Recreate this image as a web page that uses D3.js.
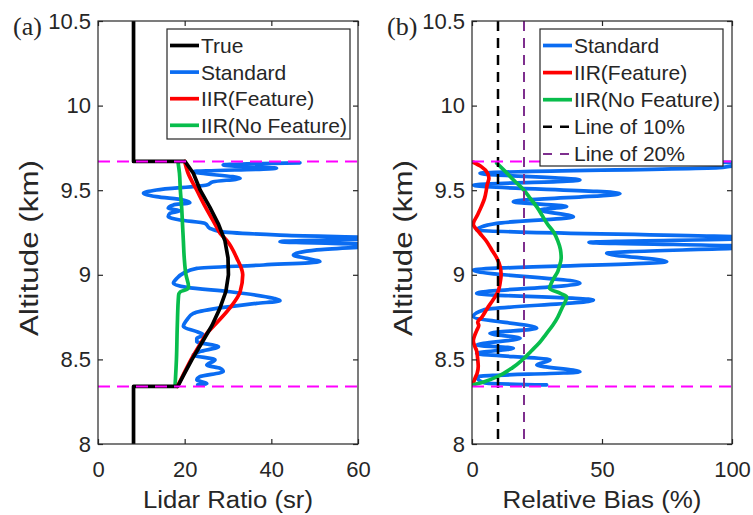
<!DOCTYPE html>
<html>
<head>
<meta charset="utf-8">
<script src="https://cdn.jsdelivr.net/npm/d3@7"></script>
<style>
  body { margin: 0; background: #fff; }
  text { font-family: "Liberation Sans", Arial, sans-serif; fill: #262626; }
</style>
</head>
<body>
<script>
// ticks
var altTicks = [8, 8.5, 9, 9.5, 10, 10.5];
var ratioTicks = [0, 20, 40, 60];
var biasTicks = [0, 50, 100];

// cloud base / top (km) and bias reference lines (%)
var cloudBounds = [8.34, 9.67];
var refLines = [10, 20];

// (a) lidar ratio, [altitude km, sr]
var trueLR = [[8.0, 8.2], [8.34, 8.2], [8.34, 18.4], [8.4, 19.6], [8.5, 21.7], [8.6, 24.0], [8.7, 26.3],
  [8.8, 28.1], [8.9, 29.5], [9.0, 30.1], [9.1, 30.0], [9.2, 29.3], [9.3, 27.8], [9.4, 25.8],
  [9.5, 23.6], [9.6, 22.0], [9.67, 20.1], [9.67, 8.2], [10.5, 8.2]];
var stdLR = [[9.662, 46.6], [9.649, 28.9], [9.629, 41.2], [9.61, 22.0], [9.57, 32.8], [9.55, 26.6],
  [9.531, 25.1], [9.501, 13.5], [9.482, 10.5], [9.462, 13.5], [9.442, 19.7], [9.426, 21.2],
  [9.413, 17.4], [9.393, 16.2], [9.379, 18.9], [9.363, 16.6], [9.344, 16.2], [9.324, 18.9],
  [9.304, 24.7], [9.275, 25.8], [9.255, 28.2], [9.235, 42.0], [9.216, 66], [9.196, 42.0],
  [9.176, 66], [9.147, 50.5], [9.117, 45.1], [9.097, 48.2], [9.078, 51.2], [9.058, 38.2],
  [9.038, 22.8], [9.009, 19.7], [8.979, 18.2], [8.95, 17.4], [8.926, 20.5], [8.9, 30.5],
  [8.861, 40.5], [8.847, 42.0], [8.831, 36.6], [8.802, 27.4], [8.772, 22.0], [8.733, 20.5],
  [8.694, 19.7], [8.664, 22.8], [8.644, 24.3], [8.625, 22.8], [8.605, 22.8], [8.575, 27.8],
  [8.546, 23.5], [8.526, 22.0], [8.497, 27.0], [8.467, 25.1], [8.447, 28.2], [8.428, 28.9],
  [8.398, 23.5], [8.378, 22.8], [8.358, 25.1], [8.35, 23.0]];
var iirFeatLR = [[9.67, 20.0], [9.6, 20.8], [9.5, 22.8], [9.4, 24.8], [9.3, 27.0], [9.245, 28.2],
  [9.2, 29.8], [9.1, 32.0], [9.0, 33.4], [8.9, 32.8], [8.8, 30.3], [8.7, 26.8], [8.654, 25.1],
  [8.6, 23.8], [8.5, 21.5], [8.4, 19.5], [8.34, 18.3]];
var iirNoFeatLR = [[9.66, 18.5], [9.6, 18.8], [9.5, 19.0], [9.4, 19.3], [9.3, 19.5], [9.2, 19.7],
  [9.1, 19.9], [9.0, 20.3], [8.93, 20.9], [8.915, 20.6], [8.9, 19.0], [8.88, 18.6], [8.7, 18.3],
  [8.5, 18.1], [8.35, 17.8]];

// (b) relative bias, [altitude km, %]
var stdBias = [[9.668, 36.4], [9.664, 105], [9.635, 96.5], [9.6, 3.1], [9.56, 41.5], [9.53, 0.5],
  [9.48, 56.9], [9.432, 15.9], [9.403, 36.4], [9.383, 26.2], [9.343, 39.0], [9.304, 9.5],
  [9.265, 1.8], [9.216, 110], [9.192, 45], [9.166, 110], [9.127, 51.8], [9.078, 74.9],
  [9.028, 0.5], [8.95, 41.5], [8.89, 1.8], [8.851, 46.7], [8.792, 4.4], [8.753, 0.5],
  [8.684, 24.9], [8.654, 6.9], [8.625, 18.5], [8.585, 1.8], [8.566, 15.9], [8.536, 1.8],
  [8.497, 30.0], [8.467, 24.9], [8.427, 41.5], [8.398, 1.8], [8.36, 5.0], [8.349, 28.7]];
var iirFeatBias = [[9.665, 0.5], [9.64, 3.5], [9.6, 6.0], [9.57, 6.5], [9.53, 5.8], [9.5, 5.5],
  [9.45, 4.8], [9.4, 3.5], [9.35, 2.0], [9.3, 0.5], [9.25, 2.8], [9.2, 5.5], [9.15, 7.5],
  [9.1, 9.5], [9.05, 10.8], [9.0, 11.2], [8.95, 10.8], [8.9, 10.0], [8.85, 8.0], [8.8, 5.8],
  [8.75, 3.8], [8.72, 2.2], [8.7, 2.6], [8.67, 1.8], [8.64, 1.0], [8.61, 0.5], [8.58, 1.0],
  [8.55, 1.8], [8.5, 2.2], [8.46, 2.4], [8.42, 2.0], [8.39, 1.2], [8.36, 0.5]];
var iirNoFeatBias = [[9.66, 9.5], [9.6, 13.5], [9.56, 16.0], [9.5, 20.0], [9.45, 22.5], [9.4, 25.0],
  [9.35, 27.0], [9.3, 29.0], [9.25, 31.5], [9.2, 33.0], [9.15, 34.0], [9.1, 34.3], [9.05, 33.6],
  [9.02, 33.0], [8.98, 31.5], [8.95, 30.5], [8.92, 29.8], [8.89, 34.0], [8.87, 36.4], [8.8, 34.5],
  [8.75, 33.0], [8.7, 31.0], [8.65, 28.5], [8.6, 26.0], [8.55, 22.8], [8.5, 19.6], [8.45, 15.5],
  [8.4, 10.0], [8.37, 5.0], [8.35, 0.5]];

var colors = {
  truth: "#000000", standard: "#0a6cf2", feature: "#ff0000", noFeature: "#08bd4c",
  cloud: "#ff00ff", ten: "#000000", twenty: "#7e2f8e"
};

var W = 753, H = 515, plotTop = 21, plotBottom = 444;

var svg = d3.select("body").append("svg")
    .attr("width", W)
    .attr("height", H);

var y = d3.scaleLinear().domain([8, 10.5]).range([plotBottom, plotTop]);

function drawPanel(p) {
  var x = d3.scaleLinear().domain(p.xDomain).range([p.left, p.right]);
  var g = svg.append("g");

  // clip to the axes box
  g.append("clipPath").attr("id", "clip" + p.id)
    .append("rect")
      .attr("x", p.left).attr("y", plotTop)
      .attr("width", p.right - p.left).attr("height", plotBottom - plotTop);

  var plot = g.append("g").attr("clip-path", "url(#clip" + p.id + ")");

  var lineSmooth = d3.line()
      .x(d => x(d[1]))
      .y(d => y(d[0]))
      .curve(d3.curveMonotoneY);
  var lineStraight = d3.line()
      .x(d => x(d[1]))
      .y(d => y(d[0]));

  p.series.forEach(function(s) {
    var pts = s.data;
    var path = s.straight ? lineStraight(pts)
      : lineSmooth(pts.slice().sort((a, b) => a[0] - b[0]));
    plot.append("path")
        .attr("d", path)
        .attr("fill", "none")
        .attr("stroke", s.color)
        .attr("stroke-width", s.width || 3.7)
        .attr("stroke-linejoin", "round")
        .attr("stroke-linecap", "round");
  });

  // reference verticals (b)
  (p.refs || []).forEach(function(r) {
    plot.append("line")
        .attr("x1", x(r.value)).attr("x2", x(r.value))
        .attr("y1", y(10.5)).attr("y2", y(8))
        .attr("stroke", r.color)
        .attr("stroke-width", r.width)
        .attr("stroke-dasharray", "10,7");
  });

  // cloud boundaries
  cloudBounds.forEach(function(c) {
    plot.append("line")
        .attr("x1", p.left).attr("x2", p.right)
        .attr("y1", y(c)).attr("y2", y(c))
        .attr("stroke", colors.cloud)
        .attr("stroke-width", 2)
        .attr("stroke-dasharray", "12,7");
  });

  // axes
  var axB = g.append("g").attr("transform", "translate(0," + plotBottom + ")")
      .call(d3.axisBottom(x).tickValues(p.xTicks).tickSize(-5).tickSizeOuter(0).tickPadding(17));
  var axT = g.append("g").attr("transform", "translate(0," + plotTop + ")")
      .call(d3.axisTop(x).tickValues(p.xTicks).tickSize(-5).tickSizeOuter(0).tickFormat(""));
  var axL = g.append("g").attr("transform", "translate(" + p.left + ",0)")
      .call(d3.axisLeft(y).tickValues(altTicks).tickSize(-5).tickSizeOuter(0).tickPadding(7)
        .tickFormat(d3.format("")));
  var axR = g.append("g").attr("transform", "translate(" + p.right + ",0)")
      .call(d3.axisRight(y).tickValues(altTicks).tickSize(-5).tickSizeOuter(0).tickFormat(""));

  [axB, axT, axL, axR].forEach(function(a) {
    a.selectAll("path.domain").remove();
    a.selectAll("line").attr("stroke", "#262626").attr("stroke-width", 1.2);
    a.selectAll("text").attr("font-size", 22)
      .style("font-family", "'Liberation Sans', Arial, sans-serif").attr("fill", "#262626");
  });

  g.append("rect")
      .attr("x", p.left).attr("y", plotTop)
      .attr("width", p.right - p.left).attr("height", plotBottom - plotTop)
      .attr("fill", "none")
      .attr("stroke", "#262626")
      .attr("stroke-width", 1.2);

  // axis labels
  g.append("text")
      .attr("x", (p.left + p.right) / 2)
      .attr("y", 508)
      .attr("text-anchor", "middle")
      .attr("font-size", 23)
      .attr("textLength", p.xLabelLen)
      .attr("lengthAdjust", "spacingAndGlyphs")
      .text(p.xLabel);

  g.append("text")
      .attr("transform", "translate(" + (p.left - 60) + ",248) rotate(-90)")
      .attr("text-anchor", "middle")
      .attr("font-size", 25)
      .attr("textLength", 176)
      .attr("lengthAdjust", "spacingAndGlyphs")
      .text("Altitude (km)");

  g.append("text")
      .attr("x", p.left - 85)
      .attr("y", 35)
      .attr("font-size", 26)
      .style("font-family", "'Liberation Serif', 'Times New Roman', serif")
      .text(p.tag);

  // legend
  var lg = g.append("g");
  lg.append("rect")
      .attr("x", p.legend.x).attr("y", 29)
      .attr("width", p.legend.w).attr("height", p.legend.h)
      .attr("fill", "#fff")
      .attr("stroke", "#262626")
      .attr("stroke-width", 1.2);
  p.legend.items.forEach(function(it, i) {
    var ly = 45.5 + i * p.legend.step;
    lg.append("line")
        .attr("x1", p.legend.x + 3).attr("x2", p.legend.x + 32)
        .attr("y1", ly).attr("y2", ly)
        .attr("stroke", it.color)
        .attr("stroke-width", it.dash ? it.width : 3.7)
        .attr("stroke-dasharray", it.dash ? "9,8" : null);
    lg.append("text")
        .attr("x", p.legend.x + 34)
        .attr("y", ly)
        .attr("dy", "0.36em")
        .attr("font-size", 21)
        .text(it.name);
  });
}

drawPanel({
  id: "a", tag: "(a)", left: 98, right: 358, xDomain: [0, 60], xTicks: ratioTicks,
  xLabel: "Lidar Ratio (sr)", xLabelLen: 170,
  series: [
    {data: stdLR, color: colors.standard},
    {data: iirNoFeatLR, color: colors.noFeature},
    {data: iirFeatLR, color: colors.feature},
    {data: trueLR, color: colors.truth, straight: true}
  ],
  legend: {
    x: 167, w: 183, h: 110, step: 26.6,
    items: [
      {name: "True", color: colors.truth},
      {name: "Standard", color: colors.standard},
      {name: "IIR(Feature)", color: colors.feature},
      {name: "IIR(No Feature)", color: colors.noFeature}
    ]
  }
});

drawPanel({
  id: "b", tag: "(b)", left: 472, right: 732, xDomain: [0, 100], xTicks: biasTicks,
  xLabel: "Relative Bias (%)", xLabelLen: 199,
  series: [
    {data: stdBias, color: colors.standard},
    {data: iirFeatBias, color: colors.feature},
    {data: iirNoFeatBias, color: colors.noFeature}
  ],
  refs: [
    {value: refLines[0], color: colors.ten, width: 2.5},
    {value: refLines[1], color: colors.twenty, width: 2}
  ],
  legend: {
    x: 540, w: 183, h: 137, step: 27.1,
    items: [
      {name: "Standard", color: colors.standard},
      {name: "IIR(Feature)", color: colors.feature},
      {name: "IIR(No Feature)", color: colors.noFeature},
      {name: "Line of 10%", color: colors.ten, dash: true, width: 2.5},
      {name: "Line of 20%", color: colors.twenty, dash: true, width: 2}
    ]
  }
});
</script>
</body>
</html>
